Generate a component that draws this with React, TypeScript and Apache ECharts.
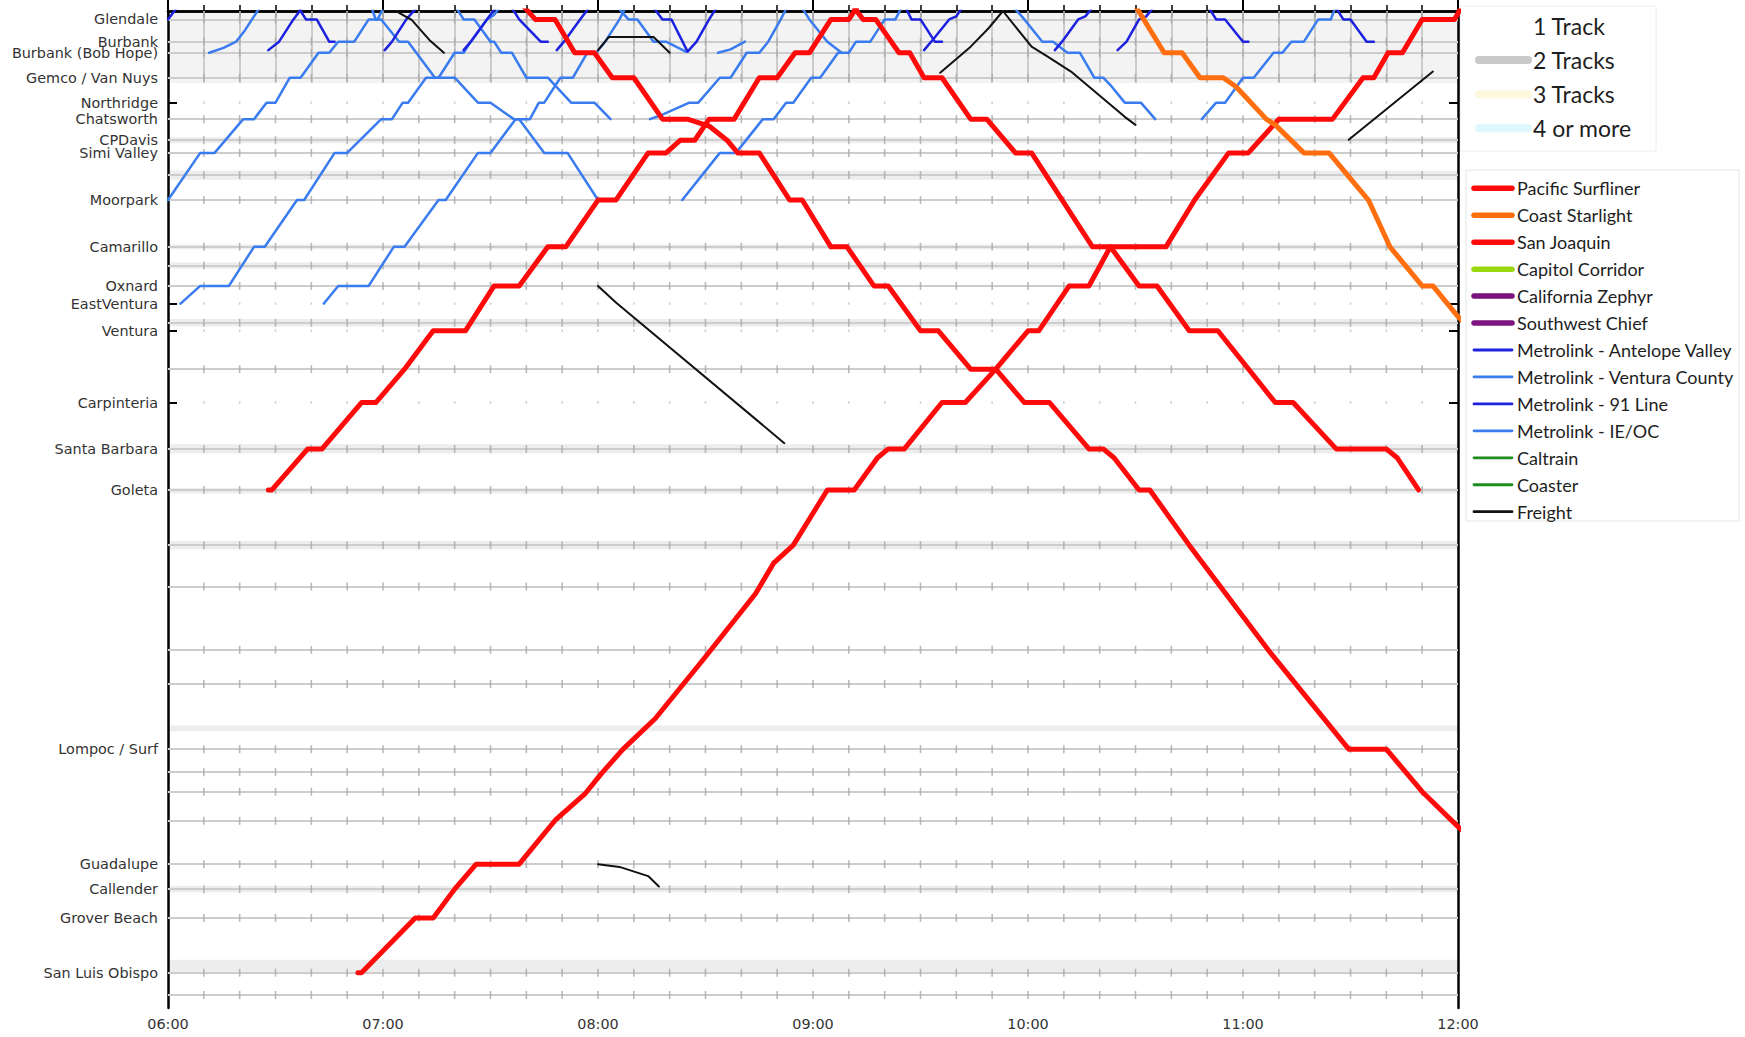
import React, { useEffect, useRef } from "react";
import * as echarts from "echarts";

// ---- Line geography (miles from the top edge of the diagram, Los Angeles side) ----
const STATION_NAMES = [
  "Glendale", "Burbank", "Burbank (Bob Hope)", "Gemco / Van Nuys", "Northridge", "Chatsworth",
  "CPDavis", "Simi Valley", "Moorpark", "Camarillo", "Oxnard", "EastVentura", "Ventura",
  "Carpinteria", "Santa Barbara", "Goleta", "Lompoc / Surf", "Guadalupe", "Callender",
  "Grover Beach", "San Luis Obispo",
];
const STATION_MILES = [
  2.2, 8.0, 10.9, 17.4, 23.9, 28.2, 33.7, 37.0, 49.3, 61.5, 71.7, 76.3, 83.4,
  102.1, 114.2, 124.9, 192.5, 222.5, 229.0, 236.5, 250.8,
];
// Stations drawn only with dotted time marks (no track line)
const DOTTED_STATIONS = ["Northridge", "EastVentura", "Ventura", "Carpinteria"];
// Unlabelled control points / sidings
const CONTROL_POINT_MILES = [42.8, 66.4, 81.3, 93.4, 139.3, 150.1, 166.6, 175.5, 198.5, 203.6, 211.2, 256.6];
// Shaded double-track stretches [from, to]
const DOUBLE_TRACK_BANDS: [number, number][] = [
  [0, 18.8], [32.9, 34.5], [41.6, 44.0], [60.9, 62.1], [65.6, 67.2], [80.3, 82.3],
  [113.0, 115.4], [124.4, 125.8], [138.2, 140.4], [186.3, 187.8], [228.2, 229.8], [247.4, 251.2],
];
const MILE_MIN = 0;
const MILE_MAX = 260;
const TIME_TICKS = ["06:00", "07:00", "08:00", "09:00", "10:00", "11:00", "12:00"];

// ---- Legends ----
const TRACK_LEGEND_LABELS = ["1 Track", "2 Tracks", "3 Tracks", "4 or more"];
const TRACK_LEGEND_COLORS = ["#ffffff", "#c9c9c9", "#fdf8dc", "#dcf7fd"];

const SERVICE_NAMES = [
  "Pacific Surfliner", "Coast Starlight", "San Joaquin", "Capitol Corridor", "California Zephyr",
  "Southwest Chief", "Metrolink - Antelope Valley", "Metrolink - Ventura County", "Metrolink - 91 Line",
  "Metrolink - IE/OC", "Caltrain", "Coaster", "Freight",
];
const SERVICE_COLORS = [
  "#ff0a0a", "#ff6f0f", "#ff0a0a", "#99d80f", "#7d137d", "#7d137d", "#1d22df", "#3a7cef",
  "#1d22df", "#3a7cef", "#1f8c1f", "#1f8c1f", "#111111",
];
const SERVICE_WIDTHS = [5, 5, 5, 5, 5, 5, 2.5, 2.5, 2.5, 2.5, 2.5, 2.5, 2];

// ---- Timetables: [time, station or milepost] ----
type Stop = [string, string | number];

// Pacific Surfliner
const PS_GOLETA_NORTH: Stop[] = [
  ["06:28", "Goleta"], ["06:29", "Goleta"], ["06:39", "Santa Barbara"], ["06:43", "Santa Barbara"],
  ["06:54", "Carpinteria"], ["06:58", "Carpinteria"], ["07:06", 93.4], ["07:14", "Ventura"], ["07:23", "Ventura"],
  ["07:31", "Oxnard"], ["07:38", "Oxnard"], ["07:46", "Camarillo"], ["07:51", "Camarillo"],
  ["08:00", "Moorpark"], ["08:05", "Moorpark"], ["08:14", "Simi Valley"], ["08:19", "Simi Valley"],
  ["08:23", "CPDavis"], ["08:27", "CPDavis"], ["08:31", "Chatsworth"], ["08:38", "Chatsworth"],
  ["08:45", "Gemco / Van Nuys"], ["08:50", "Gemco / Van Nuys"], ["08:55", "Burbank (Bob Hope)"],
  ["08:59", "Burbank (Bob Hope)"], ["09:05", "Glendale"], ["09:10", "Glendale"], ["09:13", -2],
];
const PS_LA_SOUTH_AM: Stop[] = [
  ["07:39", -1.5], ["07:42.5", "Glendale"], ["07:48", "Glendale"], ["07:53.5", "Burbank (Bob Hope)"],
  ["07:59", "Burbank (Bob Hope)"], ["08:04", "Gemco / Van Nuys"], ["08:10", "Gemco / Van Nuys"],
  ["08:18", "Chatsworth"], ["08:25", "Chatsworth"], ["08:31", 30.0], ["08:36", "CPDavis"],
  ["08:39", "Simi Valley"], ["08:45", "Simi Valley"], ["08:53.5", "Moorpark"], ["08:57", "Moorpark"],
  ["09:05", "Camarillo"], ["09:09.5", "Camarillo"], ["09:17", "Oxnard"], ["09:21", "Oxnard"],
  ["09:30", "Ventura"], ["09:35", "Ventura"], ["09:44", 93.4], ["09:51", 93.4], ["09:59", "Carpinteria"],
  ["10:06", "Carpinteria"], ["10:17", "Santa Barbara"], ["10:21", "Santa Barbara"], ["10:24", 116.5],
  ["10:31", "Goleta"], ["10:34", "Goleta"], ["10:45", 139.3], ["11:07", 166.6], ["11:29.5", "Lompoc / Surf"],
  ["11:40", "Lompoc / Surf"], ["11:50", 203.6], ["12:00", 212.7], ["12:02", 214.3],
];
const PS_SLO_NORTH: Stop[] = [
  ["06:53", "San Luis Obispo"], ["06:54", "San Luis Obispo"], ["07:09", "Grover Beach"], ["07:14", "Grover Beach"],
  ["07:20", "Callender"], ["07:26", "Guadalupe"], ["07:38", "Guadalupe"], ["07:48", 211.1], ["07:56.5", 204.0],
  ["08:01", 198.8], ["08:07", "Lompoc / Surf"], ["08:16", 184.5], ["08:30", 168.4], ["08:44", 151.9],
  ["08:49", 144.0], ["08:54.5", 139.3], ["09:04", "Goleta"], ["09:11.5", "Goleta"], ["09:18", 116.5],
  ["09:21", "Santa Barbara"], ["09:25.5", "Santa Barbara"], ["09:36", "Carpinteria"], ["09:42.5", "Carpinteria"],
  ["09:51", 93.4], ["10:00", "Ventura"], ["10:03", "Ventura"], ["10:11.5", "Oxnard"], ["10:17", "Oxnard"],
  ["10:23", "Camarillo"], ["10:38.5", "Camarillo"], ["10:46.5", "Moorpark"], ["10:56", "Simi Valley"],
  ["11:01.5", "Simi Valley"], ["11:10", "Chatsworth"], ["11:25", "Chatsworth"], ["11:33.5", "Gemco / Van Nuys"],
  ["11:36.5", "Gemco / Van Nuys"], ["11:40.5", "Burbank (Bob Hope)"], ["11:44.5", "Burbank (Bob Hope)"],
  ["11:50", "Glendale"], ["11:59", "Glendale"], ["12:01", -1],
];
const PS_LA_SOUTH_MID: Stop[] = [
  ["09:11", -1.5], ["09:14", "Glendale"], ["09:17.5", "Glendale"], ["09:24", "Burbank (Bob Hope)"],
  ["09:27", "Burbank (Bob Hope)"], ["09:31", "Gemco / Van Nuys"], ["09:36", "Gemco / Van Nuys"],
  ["09:44", "Chatsworth"], ["09:48.5", "Chatsworth"], ["09:56.5", "Simi Valley"], ["10:01", "Simi Valley"],
  ["10:18", "Camarillo"], ["10:23", "Camarillo"], ["10:31", "Oxnard"], ["10:36", "Oxnard"],
  ["10:45", "Ventura"], ["10:53", "Ventura"], ["11:09", "Carpinteria"], ["11:14", "Carpinteria"],
  ["11:26", "Santa Barbara"], ["11:40", "Santa Barbara"], ["11:43", 116.5], ["11:49", "Goleta"],
];

// Coast Starlight
const CS_SOUTH: Stop[] = [
  ["10:30", -1.3], ["10:38", "Burbank (Bob Hope)"], ["10:43", "Burbank (Bob Hope)"], ["10:48", "Gemco / Van Nuys"],
  ["10:54.5", "Gemco / Van Nuys"], ["10:58", 19.7], ["11:06.5", "Chatsworth"], ["11:09", 29.7],
  ["11:17", "Simi Valley"], ["11:24", "Simi Valley"], ["11:35", "Moorpark"], ["11:41", "Camarillo"],
  ["11:50", "Oxnard"], ["11:53", "Oxnard"], ["12:00", 79.7], ["12:02", 81.5],
];

// Metrolink - Antelope Valley
const AV_1: Stop[] = [["06:00", "Glendale"], ["06:03", -1.5]];
const AV_2: Stop[] = [["06:28", 10.2], ["06:31", "Burbank"], ["06:35", "Glendale"], ["06:38", -1.5]];
const AV_3: Stop[] = [["06:36", -1.5], ["06:38.5", "Glendale"], ["06:41.5", "Glendale"], ["06:45", "Burbank"], ["06:46.5", "Burbank"]];
const AV_4: Stop[] = [["07:00.5", 10.2], ["07:02.5", "Burbank"], ["07:06.5", "Glendale"], ["07:10", -1.5]];
const AV_5: Stop[] = [["07:22.5", 10.2], ["07:24.5", "Burbank"], ["07:29", "Glendale"], ["07:32", -1.5]];
const AV_6: Stop[] = [["07:35.5", -1.5], ["07:38", "Glendale"], ["07:44", "Burbank"], ["07:46", "Burbank"]];
const AV_7: Stop[] = [["07:48.5", 10.2], ["07:50.5", "Burbank"], ["07:55", "Glendale"], ["07:58", -1.5]];
const AV_8: Stop[] = [
  ["08:15", -1.5], ["08:18", "Glendale"], ["08:20.5", "Glendale"], ["08:25", 10.6],
  ["08:27.5", "Burbank"], ["08:31", "Glendale"], ["08:33.5", -1.5],
];
const AV_9: Stop[] = [["09:25.5", -1.5], ["09:27.5", "Glendale"], ["09:30", "Glendale"], ["09:34", "Burbank"], ["09:36", "Burbank"]];
const AV_10: Stop[] = [["09:31", 10.2], ["09:33", "Burbank"], ["09:38", "Glendale"], ["09:40", 1.4], ["09:42", -1.5]];
const AV_11: Stop[] = [["10:07.5", 10.2], ["10:09.5", "Burbank"], ["10:14", "Glendale"], ["10:16", 1.4], ["10:18.5", -1.5]];
const AV_12: Stop[] = [["10:25", 10.2], ["10:27.5", "Burbank"], ["10:31", "Glendale"], ["10:33", 1.4], ["10:35.5", -1.5]];
const AV_13: Stop[] = [["10:50", -1.5], ["10:52.5", "Glendale"], ["10:55", "Glendale"], ["11:00", "Burbank"], ["11:01.5", "Burbank"]];
const AV_14: Stop[] = [["11:25.5", -1.5], ["11:28", "Glendale"], ["11:30", "Glendale"], ["11:34.5", "Burbank"], ["11:36.5", "Burbank"]];

// Metrolink - Ventura County
const VC_1: Stop[] = [["06:11.5", 10.9], ["06:15.5", 9.6], ["06:19", "Burbank"], ["06:21.5", 5.0], ["06:26", -1.5]];
const VC_2: Stop[] = [
  ["06:00", "Moorpark"], ["06:09", "Simi Valley"], ["06:13", "Simi Valley"], ["06:21", "Chatsworth"],
  ["06:24", "Chatsworth"], ["06:27.5", "Northridge"], ["06:30", "Northridge"], ["06:34", "Gemco / Van Nuys"],
  ["06:37", "Gemco / Van Nuys"], ["06:42", "Burbank (Bob Hope)"], ["06:45", "Burbank (Bob Hope)"],
  ["06:47.5", "Burbank"], ["06:52", "Burbank"], ["06:56", "Glendale"], ["06:58.5", "Glendale"], ["07:00.5", -1.5],
];
const VC_3: Stop[] = [
  ["06:03.5", "EastVentura"], ["06:09", "Oxnard"], ["06:17", "Oxnard"], ["06:24", "Camarillo"], ["06:27", "Camarillo"],
  ["06:36", "Moorpark"], ["06:38", "Moorpark"], ["06:46.5", "Simi Valley"], ["06:50", "Simi Valley"],
  ["06:59.5", "Chatsworth"], ["07:02.5", "Chatsworth"], ["07:05.5", "Northridge"], ["07:07", "Northridge"],
  ["07:12", "Gemco / Van Nuys"], ["07:15.5", "Gemco / Van Nuys"], ["07:20", "Burbank (Bob Hope)"],
  ["07:22.5", "Burbank (Bob Hope)"], ["07:24.5", "Burbank"], ["07:29", "Glendale"], ["07:31", 1.0], ["07:33", -1.5],
];
const VC_4: Stop[] = [
  ["06:43.5", "EastVentura"], ["06:47.5", "Oxnard"], ["06:56", "Oxnard"], ["07:03", "Camarillo"], ["07:06", "Camarillo"],
  ["07:15.5", "Moorpark"], ["07:17.5", "Moorpark"], ["07:26.5", "Simi Valley"], ["07:30", "Simi Valley"],
  ["07:37", "Chatsworth"], ["07:41", "Chatsworth"], ["07:43.5", "Northridge"], ["07:45", "Northridge"],
  ["07:49.5", "Gemco / Van Nuys"], ["07:53", "Gemco / Van Nuys"], ["07:57", "Burbank (Bob Hope)"],
  ["07:59.5", "Burbank (Bob Hope)"], ["08:02", "Burbank"], ["08:06", "Glendale"], ["08:08", -1.5],
];
const VC_5: Stop[] = [
  ["06:56.5", -1.5], ["06:58", "Glendale"], ["06:59.5", "Glendale"], ["07:04.5", "Burbank"], ["07:07", "Burbank"],
  ["07:14.5", "Gemco / Van Nuys"], ["07:20", "Gemco / Van Nuys"], ["07:26.5", "Northridge"], ["07:30", "Northridge"],
  ["07:36.5", "Chatsworth"], ["07:38", "Chatsworth"], ["07:45", "Simi Valley"], ["07:51.5", "Simi Valley"],
  ["08:00", "Moorpark"],
];
const VC_6: Stop[] = [
  ["07:20", -1.5], ["07:22.5", "Glendale"], ["07:25.5", "Glendale"], ["07:30", "Burbank"], ["07:31", "Burbank"],
  ["07:33", "Burbank (Bob Hope)"], ["07:36", "Burbank (Bob Hope)"], ["07:40", "Gemco / Van Nuys"],
  ["07:46", "Gemco / Van Nuys"], ["07:52.5", "Northridge"], ["07:59", "Northridge"], ["08:03.5", "Chatsworth"],
];
const VC_7: Stop[] = [
  ["08:05", -1.5], ["08:08.5", "Glendale"], ["08:11", "Glendale"], ["08:15.5", "Burbank"], ["08:19", "Burbank"], ["08:24.5", 10.6],
];
const VC_8: Stop[] = [
  ["08:14.5", "Chatsworth"], ["08:17.5", 27.2], ["08:25.5", "Northridge"], ["08:28", "Northridge"],
  ["08:34", "Gemco / Van Nuys"], ["08:37", "Gemco / Van Nuys"], ["08:41.5", "Burbank (Bob Hope)"],
  ["08:45", "Burbank (Bob Hope)"], ["08:47.5", "Burbank"], ["08:51", "Glendale"], ["08:53", -1.5],
];
const VC_9: Stop[] = [["08:33.5", 10.9], ["08:37", 10.0], ["08:41", "Burbank"]];
const VC_10: Stop[] = [
  ["08:23.5", "Moorpark"], ["08:34", "Simi Valley"], ["08:38.5", "Simi Valley"], ["08:46", "Chatsworth"],
  ["08:49", "Chatsworth"], ["08:52.5", "Northridge"], ["08:54.5", "Northridge"], ["08:59.5", "Gemco / Van Nuys"],
  ["09:02", "Gemco / Van Nuys"], ["09:07", "Burbank (Bob Hope)"], ["09:10", "Burbank (Bob Hope)"],
  ["09:12", "Burbank"], ["09:16", "Burbank"], ["09:20", "Glendale"], ["09:23", "Glendale"], ["09:25", -1.5],
];
const VC_11: Stop[] = [["08:56.5", -1.5], ["08:59", "Glendale"], ["09:04", "Burbank"], ["09:08", "Burbank (Bob Hope)"]];
const VC_12: Stop[] = [
  ["09:55.5", -1.5], ["09:59", "Glendale"], ["10:04", "Burbank"], ["10:07", "Burbank"], ["10:11", "Burbank (Bob Hope)"],
  ["10:14.5", "Burbank (Bob Hope)"], ["10:18.5", "Gemco / Van Nuys"], ["10:21", "Gemco / Van Nuys"], ["10:23", 19.3],
  ["10:27", "Northridge"], ["10:31.5", "Northridge"], ["10:35.5", "Chatsworth"],
];
const VC_13: Stop[] = [
  ["10:48.5", "Chatsworth"], ["10:52.5", "Northridge"], ["10:55", "Northridge"], ["11:00", "Gemco / Van Nuys"],
  ["11:03", "Gemco / Van Nuys"], ["11:08.5", "Burbank (Bob Hope)"], ["11:11", "Burbank (Bob Hope)"],
  ["11:13.5", "Burbank"], ["11:17", "Burbank"], ["11:21", "Glendale"], ["11:24.5", "Glendale"], ["11:26", -1.5],
];

// Freight
const FR_1: Stop[] = [["07:03", -1.5], ["07:04", 0.2], ["07:08", 2.3], ["07:13", 7.6], ["07:17", 10.9]];
const FR_2: Stop[] = [["08:00", 10.2], ["08:03", 6.8], ["08:15.5", 6.8], ["08:20", 10.9]];
const FR_3: Stop[] = [["08:00", "Oxnard"], ["08:05", 76.0], ["08:52", 112.7]];
const FR_4: Stop[] = [["08:00", "Guadalupe"], ["08:06", 223.2], ["08:14", 225.6], ["08:17", 228.3]];
const FR_5: Stop[] = [["09:35.5", 16.1], ["09:44", 9.3], ["09:49", 4.5], ["09:53", 0], ["09:54", -1]];
const FR_6: Stop[] = [
  ["09:52", -1], ["09:53", 0], ["09:56.5", 4.1], ["10:01", 9.3], ["10:05.5", 11.9], ["10:12", 15.8], ["10:27", 27.6], ["10:30", 29.7],
];
const FR_7: Stop[] = [["11:29.5", 33.6], ["11:53", 15.8]];

const TRAINS: { service: string; stops: Stop[] }[] = [
  ...[VC_1, VC_2, VC_3, VC_4, VC_5, VC_6, VC_7, VC_8, VC_9, VC_10, VC_11, VC_12, VC_13].map((stops) => ({
    service: "Metrolink - Ventura County", stops,
  })),
  ...[AV_1, AV_2, AV_3, AV_4, AV_5, AV_6, AV_7, AV_8, AV_9, AV_10, AV_11, AV_12, AV_13, AV_14].map((stops) => ({
    service: "Metrolink - Antelope Valley", stops,
  })),
  ...[FR_1, FR_2, FR_3, FR_4, FR_5, FR_6, FR_7].map((stops) => ({ service: "Freight", stops })),
  ...[PS_GOLETA_NORTH, PS_LA_SOUTH_AM, PS_SLO_NORTH, PS_LA_SOUTH_MID].map((stops) => ({
    service: "Pacific Surfliner", stops,
  })),
  { service: "Coast Starlight", stops: CS_SOUTH },
];

// ---- helpers ----
const toMinutes = (t: string) => {
  const [h, m] = t.split(":");
  return Number(h) * 60 + parseFloat(m);
};
const fmtTime = (v: number) =>
  `${String(Math.floor(v / 60)).padStart(2, "0")}:${String(Math.round(v % 60)).padStart(2, "0")}`;
const STATION_AT = new Map(STATION_NAMES.map((n, i) => [n, STATION_MILES[i]] as [string, number]));
const NAME_AT_MILE = new Map(STATION_MILES.map((m, i) => [m, STATION_NAMES[i]] as [number, string]));
const place = (p: string | number) => (typeof p === "number" ? p : (STATION_AT.get(p) as number));

function buildOption(): echarts.EChartsOption {
  const tMin = toMinutes(TIME_TICKS[0]);
  const tMax = toMinutes(TIME_TICKS[TIME_TICKS.length - 1]);
  const tenMinuteMarks: number[] = [];
  for (let t = tMin + 10; t < tMax; t += 10) tenMinuteMarks.push(t);

  const lineRows = [
    ...STATION_NAMES.filter((n) => !DOTTED_STATIONS.includes(n)).map((n) => STATION_AT.get(n) as number),
    ...CONTROL_POINT_MILES,
  ];
  const dotRows = DOTTED_STATIONS.map((n) => STATION_AT.get(n) as number);

  const rowTicks: number[][] = [];
  lineRows.forEach((m) => tenMinuteMarks.forEach((t) => rowTicks.push([t, m])));
  const rowDots: number[][] = [];
  dotRows.forEach((m) => tenMinuteMarks.forEach((t) => rowDots.push([t, m])));

  const topBand = DOUBLE_TRACK_BANDS[0];
  const bandVerticals = tenMinuteMarks.map((t) => ({ coords: [[t, topBand[0]], [t, topBand[1]]] }));

  const axisFont = { fontFamily: "DejaVu Sans", fontSize: 14.4, color: "#333" };
  const frame = { show: true, lineStyle: { color: "#000", width: 2.5 } };

  const trainSeries = TRAINS.map((tr, i) => {
    const k = SERVICE_NAMES.indexOf(tr.service);
    return {
      type: "line" as const,
      name: tr.service,
      id: `train-${i}`,
      data: tr.stops.map(([t, p]) => [toMinutes(t), place(p)]),
      showSymbol: false,
      symbol: "none",
      silent: true,
      clip: true,
      z: 5,
      lineStyle: { color: SERVICE_COLORS[k], width: SERVICE_WIDTHS[k], cap: "round", join: "round" },
    };
  });

  const graphic: any[] = [];
  // track-count legend
  graphic.push({
    type: "rect",
    shape: { x: 1460, y: 6, width: 196, height: 145 },
    style: { fill: "#fff", stroke: "#ececec", lineWidth: 1 },
  });
  TRACK_LEGEND_LABELS.forEach((label, i) => {
    const y = 26 + i * 34.1;
    graphic.push({
      type: "line",
      shape: { x1: 1479, y1: y, x2: 1528, y2: y },
      style: { stroke: TRACK_LEGEND_COLORS[i], lineWidth: 8, lineCap: "round" },
    });
    graphic.push({
      type: "text",
      x: 1533,
      y,
      style: { text: label, fontFamily: "Lato", fontSize: 23, fill: "#1e1e1e", verticalAlign: "middle" },
    });
  });
  // service legend
  graphic.push({
    type: "rect",
    shape: { x: 1466, y: 170, width: 273, height: 351 },
    style: { fill: "#fff", stroke: "#e6e6e6", lineWidth: 1 },
  });
  SERVICE_NAMES.forEach((name, i) => {
    const y = 188.3 + i * 26.95;
    graphic.push({
      type: "line",
      shape: { x1: 1474, y1: y, x2: 1512, y2: y },
      style: { stroke: SERVICE_COLORS[i], lineWidth: SERVICE_WIDTHS[i] >= 4 ? 5.5 : 2.8, lineCap: "round" },
    });
    graphic.push({
      type: "text",
      x: 1517,
      y,
      style: { text: name, fontFamily: "Lato", fontSize: 18, fill: "#1e1e1e", verticalAlign: "middle" },
    });
  });

  return {
    animation: false,
    backgroundColor: "#ffffff",
    grid: { left: 168, top: 11, width: 1290, height: 997 },
    xAxis: [
      {
        type: "value",
        min: tMin,
        max: tMax,
        interval: 60,
        position: "bottom",
        axisLine: frame,
        axisTick: { show: true, inside: true, length: 11, lineStyle: { color: "#000", width: 2 } },
        minorTick: { show: true, splitNumber: 6, length: 6, lineStyle: { color: "#000", width: 1.5 } },
        axisLabel: { ...axisFont, margin: 9, formatter: (v: number) => fmtTime(v) },
        splitLine: { show: false },
      },
      {
        type: "value",
        min: tMin,
        max: tMax,
        interval: 60,
        position: "top",
        axisLine: frame,
        axisTick: { show: true, inside: true, length: 8, lineStyle: { color: "#000", width: 1.5 } },
        minorTick: { show: true, splitNumber: 6, length: 6, lineStyle: { color: "#000", width: 1.5 } },
        axisLabel: { show: false },
        splitLine: { show: false },
      },
    ],
    yAxis: [
      {
        type: "value",
        min: MILE_MIN,
        max: MILE_MAX,
        inverse: true,
        position: "left",
        axisLine: frame,
        axisTick: { show: true, inside: true, length: 9, customValues: STATION_MILES, lineStyle: { color: "#000", width: 2 } } as any,
        axisLabel: {
          ...axisFont,
          margin: 10,
          customValues: STATION_MILES,
          hideOverlap: false,
          formatter: (v: number) => NAME_AT_MILE.get(v) ?? "",
        } as any,
        splitLine: { show: false },
      },
      {
        type: "value",
        min: MILE_MIN,
        max: MILE_MAX,
        inverse: true,
        position: "right",
        axisLine: frame,
        axisTick: { show: true, inside: true, length: 9, customValues: STATION_MILES, lineStyle: { color: "#000", width: 2 } } as any,
        axisLabel: { show: false },
        splitLine: { show: false },
      },
    ],
    graphic,
    series: [
      {
        type: "scatter",
        id: "row-ticks",
        data: rowTicks,
        symbol: "rect",
        symbolSize: [1.6, 8],
        itemStyle: { color: "#a9a9a9" },
        silent: true,
        z: 2,
        markLine: {
          silent: true,
          symbol: ["none", "none"],
          label: { show: false },
          lineStyle: { color: "#cdcdcd", width: 2, type: "solid" },
          data: lineRows.map((m) => ({ yAxis: m })),
          z: 1,
        },
        markArea: {
          silent: true,
          data: DOUBLE_TRACK_BANDS.map(([a, b], i) => [
            { yAxis: a, itemStyle: { color: i === 0 ? "#f3f3f3" : "#ededed" } },
            { yAxis: b },
          ]) as any,
          z: 0,
        },
      },
      {
        type: "scatter",
        id: "row-dots",
        data: rowDots,
        symbol: "rect",
        symbolSize: [1.6, 2.5],
        itemStyle: { color: "#c4c4c4" },
        silent: true,
        z: 2,
      },
      {
        type: "lines",
        id: "band-verticals",
        coordinateSystem: "cartesian2d",
        data: bandVerticals,
        lineStyle: { color: "#c2c2c2", width: 1.6, opacity: 1 },
        silent: true,
        z: 2,
      },
      ...trainSeries,
    ] as any,
  };
}

export default function App() {
  const ref = useRef<HTMLDivElement>(null);
  useEffect(() => {
    const chart = echarts.init(ref.current as HTMLDivElement, null, { renderer: "svg" });
    chart.setOption(buildOption());
    return () => chart.dispose();
  }, []);
  return (
    <div
      ref={ref}
      style={{ position: "fixed", left: 0, top: 0, width: 1745, height: 1037, background: "#fff" }}
    />
  );
}
